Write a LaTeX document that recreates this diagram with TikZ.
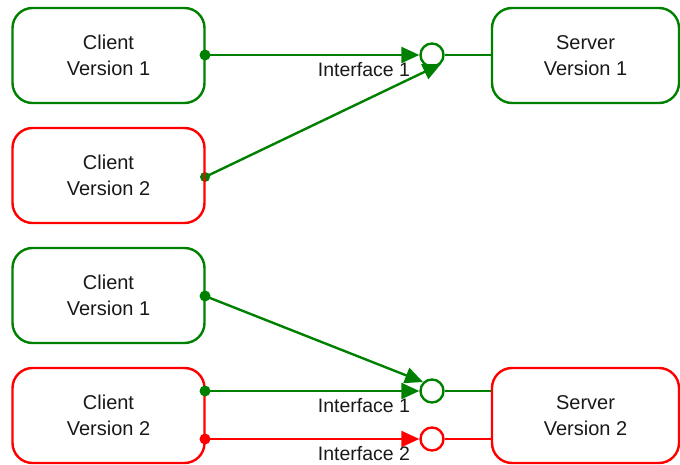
\documentclass[tikz,border=0pt]{standalone}
\usepackage{fontspec}
\setmainfont{Liberation Sans}
\usetikzlibrary{arrows.meta}
\pgfdeclarelayer{background}
\pgfsetlayers{background,main}
\definecolor{dgreen}{RGB}{0,128,0}
\definecolor{dred}{RGB}{255,0,0}
\definecolor{txt}{RGB}{25,25,25}
\begin{document}
\begin{tikzpicture}[x=1pt,y=-1pt,
  box/.style={draw=#1,line width=2.4pt,rounded corners=20pt,minimum width=192pt,minimum height=95pt,align=center,text=txt,font=\fontsize{20}{26}\selectfont},
  sbox/.style={box=#1,minimum width=187pt},
  lolli/.style={circle,draw=#1,line width=2.4pt,fill=white,minimum size=23pt,inner sep=0pt},
  conn/.style={draw=#1,line width=2.4pt,-{Triangle[length=18pt,width=16pt]}},
  plain/.style={draw=#1,line width=2.4pt},
  lbl/.style={text=txt,font=\fontsize{19.5}{22}\selectfont,inner sep=0pt}]
\useasboundingbox (0,0) rectangle (680,465);
% boxes
\node[box=dgreen] (cA) at (108.5,55.5) {Client\\Version 1};
\node[box=dred] (cB) at (108.5,175.5) {Client\\Version 2};
\node[box=dgreen] (cC) at (108.5,295.5) {Client\\Version 1};
\node[box=dred] (cD) at (108.5,415.5) {Client\\Version 2};
\node[sbox=dgreen] (sA) at (585.5,55.5) {Server\\Version 1};
\node[sbox=dred] (sB) at (585.5,415.5) {Server\\Version 2};
% points on the client borders
\coordinate (pA) at (205,55);
\coordinate (pB) at (205,177);
\coordinate (pC) at (205,296);
\coordinate (pD) at (205,391);
\coordinate (pE) at (205,439);
% lollipops
\node[lolli=dgreen] (iA) at (432,55) {};
\node[lolli=dgreen] (iB) at (432,391) {};
\node[lolli=dred] (iC) at (432,439) {};
\draw[plain=dgreen] (iA.east) -- (iA.east -| sA.west);
\draw[plain=dgreen] (iB.east) -- (iB.east -| sB.west);
\draw[plain=dred] (iC.east) -- (iC.east -| sB.west);
% connectors
\draw[conn=dgreen] (pA) -- (iA.west);
\draw[conn=dgreen] (pB) -- (iA.-45);
\draw[conn=dgreen] (pC) -- (iB.135);
\draw[conn=dgreen] (pD) -- (iB.west);
\draw[conn=dred] (pE) -- (iC.west);
\begin{pgfonlayer}{background}
\fill[dgreen] (pB) circle (5pt);
\end{pgfonlayer}
\fill[dgreen] (pA) circle (5.5pt);
\fill[dgreen] (pC) circle (5.5pt);
\fill[dgreen] (pD) circle (5.5pt);
\fill[dred] (pE) circle (5.5pt);
% labels
\node[lbl] (lA) at (364,70) {Interface 1};
\node[lbl] (lB) at (364,406) {Interface 1};
\node[lbl] (lC) at (364,454) {Interface 2};
\end{tikzpicture}
\end{document}
